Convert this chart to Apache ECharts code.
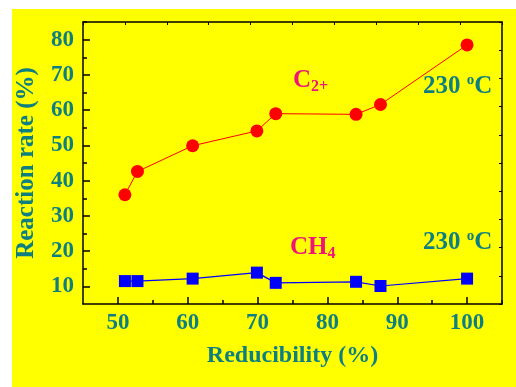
<!DOCTYPE html>
<html>
<head>
<meta charset="utf-8">
<script src="https://cdn.jsdelivr.net/npm/echarts@6/dist/echarts.min.js"></script>
<style>
body { margin: 0; background: #fff; }
#main { position: absolute; left: 12px; top: 9px; width: 504px; height: 378px; }
</style>
</head>
<body>
<div id="main"></div>
<script>
var reducibility = [51, 52.8, 60.7, 69.9, 72.6, 84.1, 87.6, 100];
var c2Rate = [36, 42.6, 49.9, 54.1, 59, 58.8, 61.6, 78.5];
var ch4Rate = [11.5, 11.5, 12.2, 13.9, 11.0, 11.3, 10.1, 12.2];
var xMajor = [50, 60, 70, 80, 90, 100];
var xMinor = [55, 65, 75, 85, 95, 105];
var yMajor = [10, 20, 30, 40, 50, 60, 70, 80];
var yMinor = [15, 25, 35, 45, 55, 65, 75, 85];

var teal = '#0e7f80';
var pink = '#f0147a';
var font = '"Liberation Serif", "Times New Roman", serif';

function pairs(xs, ys) {
	var res = [];
	for (var i = 0; i < xs.length; i++) {
		res.push([xs[i], ys[i]]);
	}
	return res;
}

function noteText(base, color) {
	return {
		text: base,
		fill: color,
		rich: {
			b: { fontFamily: font, fontWeight: 'bold', fontSize: 25, lineHeight: 28, fill: color },
			sub: { fontFamily: font, fontWeight: 'bold', fontSize: 16, lineHeight: 14, verticalAlign: 'bottom', fill: color },
			sup: { fontFamily: font, fontWeight: 'bold', fontSize: 15, lineHeight: 12, verticalAlign: 'top', fill: color }
		}
	};
}

var myChart = echarts.init(document.getElementById('main'));
var option = {
	backgroundColor: '#ffff00',
	animation: false,
	grid: { left: 71, top: 13, right: 14, bottom: 83, outerBoundsMode: 'none', containLabel: false },
	xAxis: [
		{
			type: 'value', position: 'bottom', min: 45, max: 105,
			name: 'Reducibility (%)', nameLocation: 'middle', nameGap: 40,
			nameTextStyle: { color: teal, fontFamily: font, fontWeight: 'bold', fontSize: 24 },
			axisLine: { lineStyle: { color: '#000', width: 1.5 } },
			axisTick: { inside: true, length: 7, customValues: xMajor, lineStyle: { color: '#000', width: 1.5 } },
			axisLabel: { customValues: xMajor, margin: 8, color: teal, fontFamily: font, fontWeight: 'bold', fontSize: 23 },
			splitLine: { show: false }
		},
		{
			type: 'value', position: 'top', min: 0, max: 10, interval: 1,
			axisLine: { lineStyle: { color: '#000', width: 1.5 } },
			axisTick: { inside: true, length: 3, lineStyle: { color: '#000', width: 1 } },
			axisLabel: { show: false },
			splitLine: { show: false }
		},
		{
			type: 'value', position: 'bottom', min: 45, max: 105,
			axisLine: { show: false },
			axisTick: { inside: true, length: 4, customValues: xMinor, lineStyle: { color: '#000', width: 1.5 } },
			axisLabel: { show: false },
			splitLine: { show: false }
		}
	],
	yAxis: [
		{
			type: 'value', position: 'left', min: 5, max: 85,
			name: 'Reaction rate (%)', nameLocation: 'middle', nameGap: 44,
			nameTextStyle: { color: teal, fontFamily: font, fontWeight: 'bold', fontSize: 25 },
			axisLine: { lineStyle: { color: '#000', width: 1.5 } },
			axisTick: { inside: true, length: 7, customValues: yMajor, lineStyle: { color: '#000', width: 1.5 } },
			axisLabel: { customValues: yMajor, margin: 9, color: teal, fontFamily: font, fontWeight: 'bold', fontSize: 23 },
			splitLine: { show: false }
		},
		{
			type: 'value', position: 'right', min: 0, max: 10, interval: 1,
			axisLine: { lineStyle: { color: '#000', width: 1.5 } },
			axisTick: { inside: true, length: 3, lineStyle: { color: '#000', width: 1 } },
			axisLabel: { show: false },
			splitLine: { show: false }
		},
		{
			type: 'value', position: 'left', min: 5, max: 85,
			axisLine: { show: false },
			axisTick: { inside: true, length: 4, customValues: yMinor, lineStyle: { color: '#000', width: 1.5 } },
			axisLabel: { show: false },
			splitLine: { show: false }
		}
	],
	series: [
		{
			name: 'C2+', type: 'line', xAxisIndex: 0, yAxisIndex: 0,
			data: pairs(reducibility, c2Rate),
			symbol: 'circle', symbolSize: 13,
			itemStyle: { color: '#ff0000' },
			lineStyle: { color: '#ff0000', width: 1 }
		},
		{
			name: 'CH4', type: 'line', xAxisIndex: 0, yAxisIndex: 0,
			data: pairs(reducibility, ch4Rate),
			symbol: 'rect', symbolSize: 12,
			itemStyle: { color: '#0000ff' },
			lineStyle: { color: '#0000ff', width: 1.2 }
		}
	],
	graphic: [
		{ type: 'text', left: 281, top: 59, style: noteText('{b|C}{sub|2+}', pink) },
		{ type: 'text', left: 411, top: 64, style: noteText('{b|230 }{sup|o}{b|C}', teal) },
		{ type: 'text', left: 278, top: 226, style: noteText('{b|CH}{sub|4}', pink) },
		{ type: 'text', left: 411, top: 220, style: noteText('{b|230 }{sup|o}{b|C}', teal) }
	]
};
myChart.setOption(option);
</script>
</body>
</html>
